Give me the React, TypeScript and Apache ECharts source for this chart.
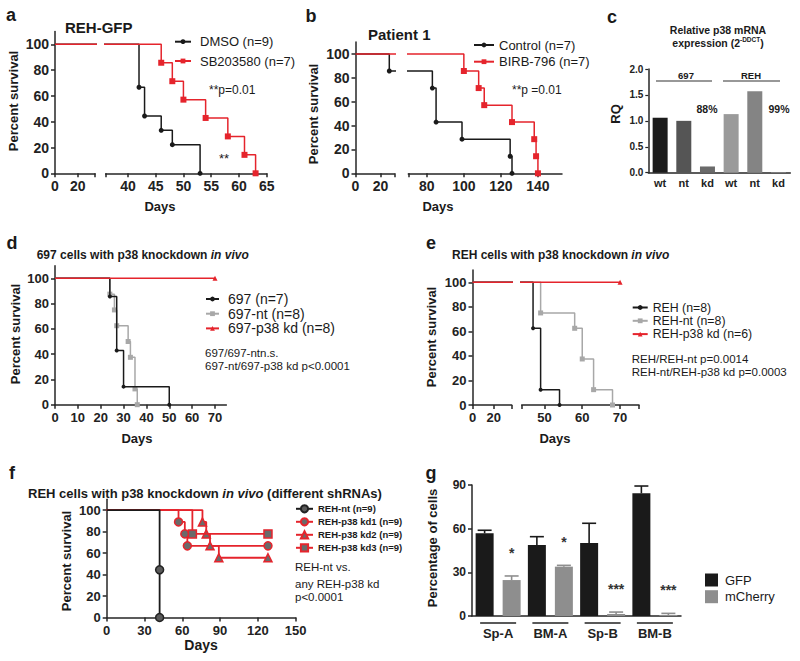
import React, { useEffect, useRef } from 'react';
import * as echarts from 'echarts';

const FONT = '"Liberation Sans", Arial, Helvetica, sans-serif';
const RED = '#e5242c';
const BLACK = '#1a1a1a';
const GRAY = '#a8a8a8';
const AX = '#262626';

// ---------- Panel a (REH-GFP) ----------
const aDmsoDays = [0, 42, 43, 46, 48, 53];
const aDmsoSurv = [100, 66.7, 44.4, 33.3, 22.2, 0];
const aSbDays = [0, 46, 48, 50, 54, 58, 61, 63];
const aSbSurv = [100, 85.7, 71.4, 57.1, 42.9, 28.6, 14.3, 0];
const aLeftTicks = [0, 20];
const aRightTicks = [40, 45, 50, 55, 60, 65];

// ---------- Panel b (Patient 1) ----------
const bCtrlDays = [0, 27, 83, 85, 99, 125, 126];
const bCtrlSurv = [100, 85.7, 71.4, 42.9, 28.6, 14.3, 0];
const bBirbDays = [0, 100, 108, 111, 126, 138, 139, 140];
const bBirbSurv = [100, 85.7, 71.4, 57.1, 42.9, 28.6, 14.3, 0];
const bLeftTicks = [0, 20];
const bRightTicks = [80, 100, 120, 140];

// ---------- Panel c (RQ) ----------
const cLabels = ['wt', 'nt', 'kd', 'wt', 'nt', 'kd'];
const cValues = [1.06, 1.0, 0.12, 1.13, 1.57, 0.01];
const cGroups = ['697', 'REH'];
const cKnockdown = ['88%', '99%'];

// ---------- Panel d (697 knockdown) ----------
const d697Days = [0, 24, 27, 30, 50];
const d697Surv = [100, 85.7, 42.9, 14.3, 0];
const dNtDays = [0, 24, 26, 27, 32, 33, 35, 36];
const dNtSurv = [100, 87.5, 75, 62.5, 50, 37.5, 12.5, 0];
const dKdDays = [0, 70];
const dKdSurv = [100, 100];
const dTicks = [0, 10, 20, 30, 40, 50, 60, 70];

// ---------- Panel e (REH knockdown) ----------
const eRehDays = [0, 47, 49, 54];
const eRehSurv = [100, 62.5, 12.5, 0];
const eNtDays = [0, 49, 58, 60, 63, 68];
const eNtSurv = [100, 75, 62.5, 37.5, 12.5, 0];
const eKdDays = [0, 70];
const eKdSurv = [100, 100];
const eLeftTicks = [0, 20];
const eRightTicks = [50, 60, 70];

// ---------- Panel f (different shRNAs) ----------
const fNtDays = [0, 42, 42];
const fNtSurv = [100, 44.4, 0];
const fKd1Days = [0, 57, 62, 64, 128];
const fKd1Surv = [100, 88.9, 77.8, 66.7, 66.7];
const fKd2Days = [0, 76, 79, 82, 89, 128];
const fKd2Surv = [100, 88.9, 77.8, 66.7, 55.6, 55.6];
const fKd3Days = [0, 68, 128];
const fKd3Surv = [100, 77.8, 77.8];
const fTicks = [0, 30, 60, 90, 120, 150];

// ---------- Panel g (percentage of cells) ----------
const gCats = ['Sp-A', 'BM-A', 'Sp-B', 'BM-B'];
const gGfp = [56.8, 48.8, 50.1, 84.3];
const gGfpErr = [2.1, 5.7, 13.6, 5.0];
const gMch = [24.7, 33.9, 1.4, 0.7];
const gMchErr = [2.8, 0.9, 1.3, 1.1];
const gStars = ['*', '*', '***', '***'];

const survTicks = [0, 20, 40, 60, 80, 100];

const C_BAR_COLORS = ['#1c1c1c', '#555555', '#6a6a6a', '#9a9a9a', '#848484', '#9a9a9a'];

const G_BAR_W = 18;
const G_GAP = 0.5;

function km(days: number[], surv: number[]) {
  return days.map((d, i) => (i === 0 ? { value: [d, surv[i]], symbol: 'none' } : { value: [d, surv[i]] }));
}

function kmSeries(
  name: string, days: number[], surv: number[], idx: number, color: string,
  symbol: string, symbolSize: number, z: number, itemStyle?: any, width = 1.5
) {
  return {
    type: 'line', name, xAxisIndex: idx, yAxisIndex: idx, step: 'end',
    data: km(days, surv), symbol, symbolSize, showSymbol: true, showAllSymbol: true,
    lineStyle: { color, width }, itemStyle: itemStyle || { color },
    z, clip: true, silent: true, emphasis: { disabled: true },
  };
}

function vx(grid: number, min: number, max: number, labels: number[], ticks: number[], fontSize = 14) {
  return {
    type: 'value', gridIndex: grid, min, max, position: 'bottom',
    splitLine: { show: false },
    axisLine: { show: true, onZero: false, lineStyle: { color: AX, width: 1.5 } },
    axisTick: { show: true, length: 4, lineStyle: { color: AX, width: 1.5 }, customValues: ticks },
    axisLabel: { customValues: labels, fontSize, fontWeight: 'bold', color: '#222', fontFamily: FONT, margin: 6 },
  };
}

function vy(grid: number, min: number, max: number, labels: number[], show = true, fontSize = 14) {
  return {
    type: 'value', gridIndex: grid, min, max, show, position: 'left',
    splitLine: { show: false },
    axisLine: { show: true, onZero: false, lineStyle: { color: AX, width: 1.5 } },
    axisTick: { show: true, length: 4, lineStyle: { color: AX, width: 1.5 }, customValues: labels },
    axisLabel: { customValues: labels, fontSize, fontWeight: 'bold', color: '#222', fontFamily: FONT, margin: 6 },
  };
}

function grid(left: number, top: number, width: number, height: number) {
  return { left, top, width, height, containLabel: false, outerBoundsMode: 'none' };
}

function T(text: string, x: number, y: number, size: number, weight = 'normal', align = 'left', extra: any = {}) {
  return {
    type: 'text', x, y, silent: true, ...extra,
    style: { text, fontSize: size, fontWeight: weight, fontFamily: FONT, fill: '#1a1a1a', align, verticalAlign: 'middle' },
  };
}

function VT(text: string, x: number, y: number, size: number) {
  return {
    type: 'text', x, y, rotation: Math.PI / 2, silent: true,
    style: { text, fontSize: size, fontWeight: 'bold', fontFamily: FONT, fill: '#1a1a1a', align: 'center', verticalAlign: 'middle' },
  };
}

function RT(text: string, x: number, y: number, size: number, align = 'left') {
  return {
    type: 'text', x, y, silent: true,
    style: {
      text, fontFamily: FONT, fill: '#1a1a1a', align, verticalAlign: 'middle',
      rich: {
        b: { fontSize: size, fontWeight: 'bold', fontFamily: FONT, fill: '#1a1a1a' },
        i: { fontSize: size, fontWeight: 'bold', fontStyle: 'italic', fontFamily: FONT, fill: '#1a1a1a' },
        s: { fontSize: size * 0.62, fontWeight: 'bold', fontFamily: FONT, fill: '#1a1a1a', verticalAlign: 'top', lineHeight: size * 1.25 },
      },
    },
  };
}

function legend(names: string[], left: number, top: number, w: number, h: number, fontSize: number, lineHeight: number, gap: number, padLeft: number, extra: any = {}) {
  return {
    data: names, left, top, orient: 'vertical', itemWidth: w, itemHeight: h, itemGap: gap, padding: 0,
    selectedMode: false,
    textStyle: { fontSize, fontFamily: FONT, color: '#1a1a1a', lineHeight, padding: [0, 0, 0, padLeft] },
    ...extra,
  };
}

function buildOption() {
  const grids = [
    grid(55, 31.4, 40, 141.9),      // 0 a1
    grid(105.7, 31.4, 161, 141.9),  // 1 a2
    grid(355.5, 42, 38.8, 131.3),   // 2 b1
    grid(408.3, 42, 153.7, 131.3),  // 3 b2
    grid(648.3, 69, 142, 103.7),    // 4 c
    grid(55, 265.7, 171.4, 139),    // 5 d
    grid(472.5, 270, 39.2, 135),    // 6 e1
    grid(521.7, 270, 117.3, 135),   // 7 e2
    grid(106.7, 499.3, 189, 118.2), // 8 f
    grid(472, 485, 209, 131),       // 9 g
  ];

  const xAxis: any[] = [
    vx(0, 0, 35, aLeftTicks, [...aLeftTicks, 35]),
    vx(1, 36, 65, aRightTicks, [36, ...aRightTicks]),
    vx(2, 0, 31, bLeftTicks, [...bLeftTicks, 31]),
    vx(3, 70, 153, bRightTicks, [70, ...bRightTicks]),
    {
      type: 'category', gridIndex: 4, data: cLabels.map((l, i) => l + i), position: 'bottom',
      axisLine: { show: true, onZero: false, lineStyle: { color: AX, width: 1.5 } },
      axisTick: { show: false },
      axisLabel: { formatter: (_v: string, i: number) => cLabels[i], fontSize: 11, fontWeight: 'bold', color: '#222', fontFamily: FONT, margin: 5 },
    },
    vx(5, 0, 75, dTicks, dTicks, 13),
    vx(6, 0, 37, eLeftTicks, [...eLeftTicks, 37], 13),
    vx(7, 44, 75, eRightTicks, [44, ...eRightTicks, 75], 13),
    vx(8, 0, 150, fTicks, fTicks, 13),
    {
      type: 'category', gridIndex: 9, data: gCats, position: 'bottom',
      axisLine: { show: true, onZero: false, lineStyle: { color: AX, width: 1.5 } },
      axisTick: { show: false },
      axisLabel: { fontSize: 13, fontWeight: 'bold', color: '#222', fontFamily: FONT, margin: 11 },
    },
  ];

  const yAxis: any[] = [
    vy(0, 0, 110, survTicks, true),
    vy(1, 0, 110, survTicks, false),
    vy(2, 0, 110, survTicks, true),
    vy(3, 0, 110, survTicks, false),
    {
      type: 'value', gridIndex: 4, min: 0, max: 2, interval: 0.5, position: 'left',
      splitLine: { show: false },
      axisLine: { show: true, onZero: false, lineStyle: { color: AX, width: 1.5 } },
      axisTick: { show: true, length: 3, lineStyle: { color: AX, width: 1.2 } },
      axisLabel: { formatter: (v: number) => v.toFixed(1), fontSize: 10, fontWeight: 'bold', color: '#222', fontFamily: FONT, margin: 5 },
    },
    vy(5, 0, 110, survTicks, true, 13),
    vy(6, 0, 110, survTicks, true, 13),
    vy(7, 0, 110, survTicks, false, 13),
    vy(8, 0, 110, survTicks, true, 13),
    {
      type: 'value', gridIndex: 9, min: 0, max: 90, interval: 30, position: 'left',
      splitLine: { show: false },
      axisLine: { show: true, onZero: false, lineStyle: { color: AX, width: 1.5 } },
      axisTick: { show: true, length: 4, lineStyle: { color: AX, width: 1.5 } },
      axisLabel: { fontSize: 12, fontWeight: 'bold', color: '#222', fontFamily: FONT, margin: 6 },
    },
  ];

  const series: any[] = [];
  // a
  for (const idx of [0, 1]) {
    series.push(kmSeries('DMSO (n=9)', aDmsoDays, aDmsoSurv, idx, BLACK, 'circle', 5, 2));
    series.push(kmSeries('SB203580 (n=7)', aSbDays, aSbSurv, idx, RED, 'rect', 6, 3));
  }
  // b
  for (const idx of [2, 3]) {
    series.push(kmSeries('Control (n=7)', bCtrlDays, bCtrlSurv, idx, BLACK, 'circle', 5, 2));
    series.push(kmSeries('BIRB-796 (n=7)', bBirbDays, bBirbSurv, idx, RED, 'rect', 6, 3));
  }
  // c
  series.push({
    type: 'bar', xAxisIndex: 4, yAxisIndex: 4, barWidth: 15, silent: true,
    data: cValues.map((v, i) => ({ value: v, itemStyle: { color: C_BAR_COLORS[i] } })),
  });
  // d
  series.push(kmSeries('697 (n=7)', d697Days, d697Surv, 5, BLACK, 'circle', 4, 3));
  series.push(kmSeries('697-nt (n=8)', dNtDays, dNtSurv, 5, GRAY, 'rect', 5, 2));
  series.push(kmSeries('697-p38 kd (n=8)', dKdDays, dKdSurv, 5, RED, 'triangle', 5, 4));
  // e
  for (const idx of [6, 7]) {
    series.push(kmSeries('REH (n=8)', eRehDays, eRehSurv, idx, BLACK, 'circle', 4, 3));
    series.push(kmSeries('REH-nt (n=8)', eNtDays, eNtSurv, idx, GRAY, 'rect', 5, 2));
    series.push(kmSeries('REH-p38 kd (n=6)', eKdDays, eKdSurv, idx, RED, 'triangle', 5, 4));
  }
  // f
  series.push(kmSeries('REH-nt (n=9)', fNtDays, fNtSurv, 8, BLACK, 'circle', 8, 6, { color: '#5a5a5a', borderColor: '#222', borderWidth: 1.5 }, 1.8));
  series.push(kmSeries('REH-p38 kd1 (n=9)', fKd1Days, fKd1Surv, 8, RED, 'circle', 8, 3, { color: '#6a6a6a', borderColor: RED, borderWidth: 1.5 }, 1.8));
  series.push(kmSeries('REH-p38 kd2 (n=9)', fKd2Days, fKd2Surv, 8, RED, 'triangle', 8, 4, { color: '#6a6a6a', borderColor: RED, borderWidth: 1.5 }, 1.8));
  series.push(kmSeries('REH-p38 kd3 (n=9)', fKd3Days, fKd3Surv, 8, RED, 'rect', 8, 5, { color: '#6a6a6a', borderColor: RED, borderWidth: 1.5 }, 1.8));
  // g
  series.push({ type: 'bar', name: 'GFP', xAxisIndex: 9, yAxisIndex: 9, barWidth: G_BAR_W, barGap: G_GAP * 100 + '%', data: gGfp, itemStyle: { color: '#1a1a1a' }, silent: true });
  series.push({ type: 'bar', name: 'mCherry', xAxisIndex: 9, yAxisIndex: 9, barWidth: G_BAR_W, barGap: G_GAP * 100 + '%', data: gMch, itemStyle: { color: '#8e8e8e' }, silent: true });
  series.push({
    type: 'custom', xAxisIndex: 9, yAxisIndex: 9, z: 5, silent: true, clip: false,
    encode: { x: 0, y: 1 },
    data: gCats.map((_c, i) => [i, gGfp[i], gGfpErr[i], gMch[i], gMchErr[i]]),
    renderItem: (_params: any, api: any) => {
      const i = api.value(0);
      const base = api.coord([i, 0]);
      const off = (G_BAR_W + G_BAR_W * G_GAP) / 2;
      const children: any[] = [];
      const pairs = [
        { v: api.value(1), e: api.value(2), dx: -off, color: '#1a1a1a' },
        { v: api.value(3), e: api.value(4), dx: off, color: '#8e8e8e' },
      ];
      pairs.forEach((p, k) => {
        const x = base[0] + p.dx;
        const y0 = api.coord([i, p.v])[1];
        const y1 = api.coord([i, p.v + p.e])[1];
        children.push({ type: 'line', shape: { x1: x, y1: y0, x2: x, y2: y1 }, style: { stroke: p.color, lineWidth: 1.6 } });
        children.push({ type: 'line', shape: { x1: x - 7, y1: y1, x2: x + 7, y2: y1 }, style: { stroke: p.color, lineWidth: 1.6 } });
        if (k === 1) {
          children.push({ type: 'text', x, y: y1 - 23, style: { text: gStars[i], fontSize: 14, fontWeight: 'bold', fontFamily: FONT, fill: '#333', align: 'center', verticalAlign: 'middle' } });
        }
      });
      children.push({ type: 'line', shape: { x1: base[0] - 18, y1: base[1] + 7, x2: base[0] + 18, y2: base[1] + 7 }, style: { stroke: '#222', lineWidth: 1.4 } });
      return { type: 'group', children };
    },
  });

  const legends = [
    legend(['DMSO (n=9)', 'SB203580 (n=7)'], 174, 34.2, 16, 6, 13, 15, 4.3, 4),
    legend(['Control (n=7)', 'BIRB-796 (n=7)'], 473, 37.5, 20, 6, 13, 15, 1.7, 0),
    legend(['697 (n=7)', '697-nt (n=8)', '697-p38 kd (n=8)'], 205, 292, 13, 6, 14, 14, 0.7, 4),
    legend(['REH (n=8)', 'REH-nt (n=8)', 'REH-p38 kd (n=6)'], 631.7, 301, 15, 6, 12.3, 13, 0.3, 0),
    legend(['REH-nt (n=9)', 'REH-p38 kd1 (n=9)', 'REH-p38 kd2 (n=9)', 'REH-p38 kd3 (n=9)'], 295, 503.3, 17, 9, 9.5, 11, 2, 0,
      { textStyle: { fontSize: 9.5, fontWeight: 'bold', fontFamily: FONT, color: '#1a1a1a', lineHeight: 11 } }),
    legend(['GFP', 'mCherry'], 705, 573, 13, 13, 13, 14, 2.7, 2, { icon: 'rect' }),
  ];

  const graphic: any[] = [
    // panel letters
    T('a', 11, 15, 18, 'bold', 'center'),
    T('b', 311, 16, 18, 'bold', 'center'),
    T('c', 612, 17, 18, 'bold', 'center'),
    T('d', 12, 243, 18, 'bold', 'center'),
    T('e', 431, 243, 18, 'bold', 'center'),
    T('f', 12, 473, 18, 'bold', 'center'),
    T('g', 431, 473, 18, 'bold', 'center'),
    // titles
    T('REH-GFP', 65, 27, 15, 'bold'),
    T('Patient 1', 368, 34, 15, 'bold'),
    RT('{b|Relative p38 mRNA}', 718, 30, 10.5, 'center'),
    RT('{b|expression (2}{s|-DDCT}{b|)}', 718, 43, 10.5, 'center'),
    RT('{b|697 cells with p38 knockdown }{i|in vivo}', 36.7, 255, 12),
    RT('{b|REH cells with p38 knockdown }{i|in vivo}', 452, 255, 12),
    RT('{b|REH cells with p38 knockdown }{i|in vivo}{b| (different shRNAs)}', 28, 493, 13),
    // axis titles
    VT('Percent survival', 13, 101, 13),
    VT('Percent survival', 313, 114, 13),
    VT('RQ', 615, 114, 13),
    VT('Percent survival', 15, 334, 13),
    VT('Percent survival', 431, 337, 13),
    VT('Percent survival', 66, 561, 13),
    VT('Percentage of cells', 432.5, 548, 13),
    T('Days', 160, 206, 13, 'bold', 'center'),
    T('Days', 438, 206, 13, 'bold', 'center'),
    T('Days', 137, 438, 13, 'bold', 'center'),
    T('Days', 555, 438, 13, 'bold', 'center'),
    T('Days', 201, 645, 14, 'bold', 'center'),
    // annotations
    T('**p=0.01', 209, 90, 12),
    T('**', 224, 158, 13, 'normal', 'center'),
    T('**p =0.01', 512, 90, 12),
    T(cGroups[0], 686, 75, 9.5, 'bold', 'center'),
    T(cGroups[1], 751, 75, 9.5, 'bold', 'center'),
    { type: 'line', silent: true, shape: { x1: 656, y1: 81, x2: 712, y2: 81 }, style: { stroke: '#333', lineWidth: 1.2 } },
    { type: 'line', silent: true, shape: { x1: 723, y1: 81, x2: 780, y2: 81 }, style: { stroke: '#333', lineWidth: 1.2 } },
    T(cKnockdown[0], 707, 109, 10.5, 'bold', 'center'),
    T(cKnockdown[1], 779, 109, 10.5, 'bold', 'center'),
    T('697/697-ntn.s.', 205, 353, 11.5),
    T('697-nt/697-p38 kd p<0.0001', 205, 366, 11.5),
    T('REH/REH-nt p=0.0014', 631.7, 358.5, 11.5),
    T('REH-nt/REH-p38 kd p=0.0003', 631.7, 371.5, 11.5),
    T('REH-nt vs.', 295, 567, 11.5),
    T('any REH-p38 kd', 295, 584, 11.5),
    T('p<0.0001', 295, 597, 11.5),
  ];

  return {
    animation: false,
    backgroundColor: '#ffffff',
    textStyle: { fontFamily: FONT },
    grid: grids,
    xAxis,
    yAxis,
    series,
    legend: legends,
    graphic,
  };
}

export default function App() {
  const ref = useRef<HTMLDivElement>(null);
  useEffect(() => {
    const chart = echarts.init(ref.current!, null, { renderer: 'svg' });
    chart.setOption(buildOption() as any);
    return () => chart.dispose();
  }, []);
  return (
    <div
      ref={ref}
      style={{ position: 'absolute', left: 0, top: 0, width: 800, height: 661, background: '#fff' }}
    />
  );
}
